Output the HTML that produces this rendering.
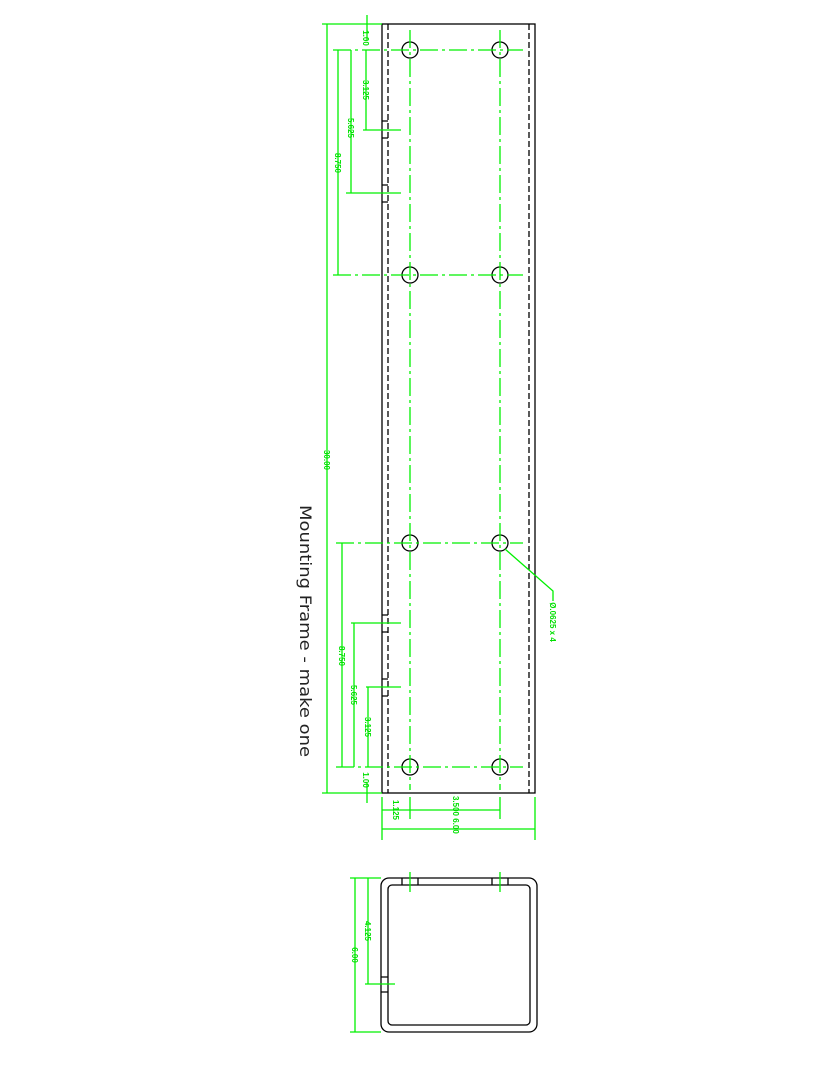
<!DOCTYPE html>
<html><head><style>html,body{margin:0;padding:0;background:#fff;}svg{display:block}</style></head><body>
<svg width="833" height="1078" viewBox="0 0 833 1078" xmlns="http://www.w3.org/2000/svg" font-family="Liberation Sans, sans-serif">
<g fill="none" stroke="#000" stroke-width="1.3">
<rect x="382" y="24" width="153" height="769"/>
<line x1="388" y1="24" x2="388" y2="793" stroke-dasharray="6,3"/>
<line x1="529" y1="24" x2="529" y2="793" stroke-dasharray="6,3"/>
<circle cx="410" cy="50" r="8"/><circle cx="500" cy="50" r="8"/>
<circle cx="410" cy="275" r="8"/><circle cx="500" cy="275" r="8"/>
<circle cx="410" cy="543" r="8"/><circle cx="500" cy="543" r="8"/>
<circle cx="410" cy="767" r="8"/><circle cx="500" cy="767" r="8"/>
<path d="M382 121h6M382 138h6M382 185h6M382 202h6M382 615h6M382 632h6M382 679h6M382 696h6"/>
<rect x="381" y="878" width="156" height="154" rx="8"/>
<rect x="388" y="885" width="142" height="140" rx="4"/>
<path d="M402 878v7M418 878v7M492 878v7M508 878v7M381 977h7M381 992h7"/>
</g>
<g fill="none" stroke="#00f000" stroke-width="1.3">
<g stroke-dasharray="18,4,3,4">
<line x1="410" y1="30" x2="410" y2="790"/><line x1="500" y1="30" x2="500" y2="790"/>
<line x1="333" y1="50" x2="523" y2="50"/><line x1="333" y1="275" x2="523" y2="275"/>
<line x1="336" y1="543" x2="523" y2="543"/><line x1="336" y1="767" x2="523" y2="767"/>
</g>
<path d="M322 24h60M322 793h60M327 24v769M367 15v25M367 783v20"/>
<path d="M366 50v80M351 50v143M338 50v225M363 130h38M346 193h55"/>
<path d="M342 543v224M354 623v144M368 687v80M351 623h50M366 687h35"/>
<path d="M382 797v43M410 797v22M500 797v22M535 797v43M382 810h118M382 829h153"/>
<path d="M505 549L553 591v10"/>
<path d="M355 878v154M350 878h31M350 1032h31M368 878v106M365 984h30M410 872v20M500 872v20"/>
</g>
<g fill="#00e000" font-size="8" font-weight="bold">
<text transform="translate(324,460) rotate(90)" text-anchor="middle">30.00</text>
<text transform="translate(363,38) rotate(90)" text-anchor="middle">1.00</text>
<text transform="translate(363,90) rotate(90)" text-anchor="middle">3.125</text>
<text transform="translate(348,128) rotate(90)" text-anchor="middle">5.625</text>
<text transform="translate(335,163) rotate(90)" text-anchor="middle">8.750</text>
<text transform="translate(339,656) rotate(90)" text-anchor="middle">8.750</text>
<text transform="translate(351,695) rotate(90)" text-anchor="middle">5.625</text>
<text transform="translate(365,727) rotate(90)" text-anchor="middle">3.125</text>
<text transform="translate(363,780) rotate(90)" text-anchor="middle">1.00</text>
<text transform="translate(393,810) rotate(90)" text-anchor="middle">1.125</text>
<text transform="translate(453,806) rotate(90)" text-anchor="middle">3.500</text>
<text transform="translate(453,826) rotate(90)" text-anchor="middle">6.00</text>
<text transform="translate(550,622) rotate(90)" text-anchor="middle">Ø.0625 x 4</text>
<text transform="translate(352,955) rotate(90)" text-anchor="middle">6.00</text>
<text transform="translate(365,931) rotate(90)" text-anchor="middle">4.125</text>
</g>
<text transform="translate(300,505) rotate(90)" font-family="DejaVu Sans, sans-serif" font-size="16" fill="#222" textLength="252" lengthAdjust="spacingAndGlyphs">Mounting Frame - make one</text>
</svg>
</body></html>
